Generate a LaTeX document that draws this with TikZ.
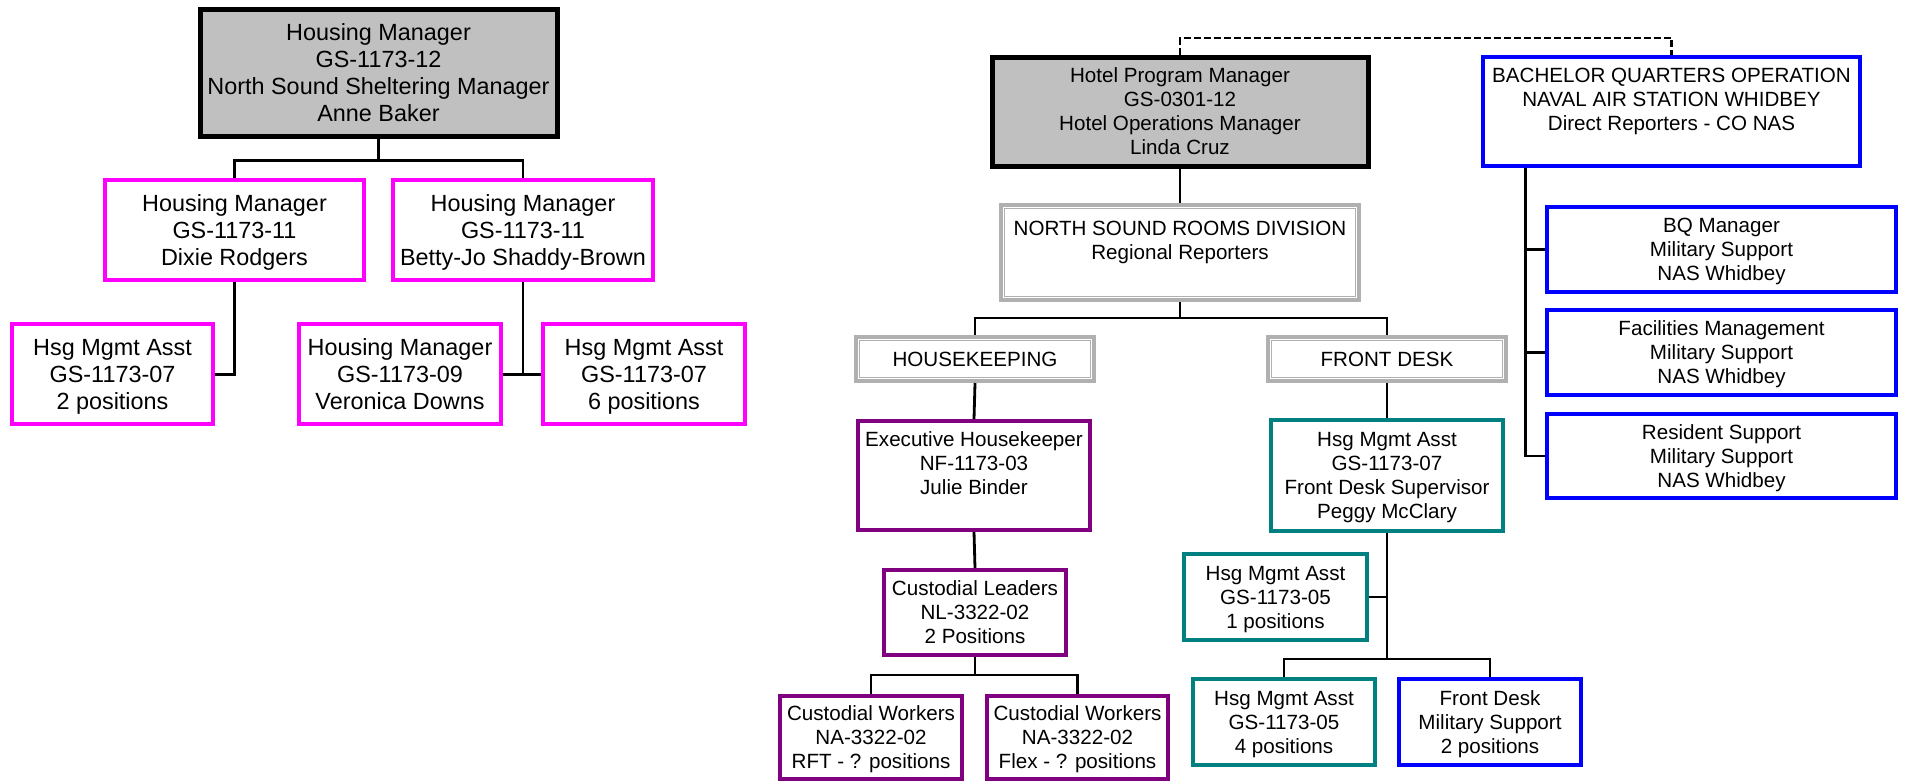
\documentclass[tikz,border=0pt]{standalone}
\usepackage{fontspec}
\setmainfont{Liberation Sans}
\definecolor{cmag}{HTML}{FF00FF}
\definecolor{cpur}{HTML}{800080}
\definecolor{cteal}{HTML}{008080}
\definecolor{cblue}{HTML}{0000FF}
\definecolor{cfill}{HTML}{C0C0C0}
\definecolor{cgrayline}{HTML}{B0B0B0}
\newcommand\firstrule{\rule{0pt}{\dimexpr0.7\baselineskip+0.25em\relax}}
\newcommand\bx[7]{\node[#2, minimum width={(#5-#3)*0.5pt}, minimum height={(#6-#4)*0.5pt}] (#1) at ({(#3+#5)/2},{(#4+#6)/2}) {\firstrule #7};}
\tikzset{
  base/.style={rectangle, inner sep=0pt, align=center, execute at end node=\strut},
  bigtxt/.style={font=\fontsize{11.7pt}{13.6pt}\selectfont},
  smalltxt/.style={font=\fontsize{10.3pt}{12pt}\selectfont},
  headbox/.style={base, draw=black, fill=cfill, line width=2.5pt},
  magbox/.style={base, bigtxt, draw=cmag, line width=1.8pt},
  purbox/.style={base, smalltxt, draw=cpur, line width=1.8pt},
  tealbox/.style={base, smalltxt, draw=cteal, line width=1.8pt},
  bluebox/.style={base, smalltxt, draw=cblue, line width=1.8pt},
  graybox/.style={base, smalltxt, draw=cgrayline, line width=2pt},
  innerline/.style={draw=cgrayline, line width=0.8pt},
  conn/.style={draw=black, line width=1.4pt},
  dconn/.style={draw=black, line width=1.3pt, dash pattern=on 3.5pt off 1.5pt},
}
\begin{document}
\begin{tikzpicture}[x=0.5pt, y=-0.5pt]
\useasboundingbox (0,0) rectangle (1906,783);
% ---------- left chart ----------
\bx{A}{headbox,bigtxt}{200}{9}{557}{136}{Housing Manager\\GS-1173-12\\North Sound Sheltering Manager\\Anne Baker}
\bx{B}{magbox}{105}{180}{364}{280}{Housing Manager\\GS-1173-11\\Dixie Rodgers}
\bx{C}{magbox}{393}{180}{653}{280}{Housing Manager\\GS-1173-11\\Betty-Jo Shaddy-Brown}
\bx{D}{magbox}{12}{324}{213}{424}{Hsg Mgmt Asst\\GS-1173-07\\2 positions}
\bx{E}{magbox}{299}{324}{501}{424}{Housing Manager\\GS-1173-09\\Veronica Downs}
\bx{F}{magbox}{543}{324}{745}{424}{Hsg Mgmt Asst\\GS-1173-07\\6 positions}
\coordinate (aj) at ([yshift=-11pt]A.south);
\draw[conn] (A.south) -- (aj);
\draw[conn] (B.north) |- (aj) -| (C.north);
\coordinate (bj) at ([yshift=-46.5pt]B.south);
\draw[conn] (B.south) -- (bj) -- (bj -| D.east);
\coordinate (cj) at ([yshift=-46.5pt]C.south);
\draw[conn] (C.south) -- (cj);
\draw[conn] (cj -| E.east) -- (cj -| F.west);
% ---------- right chart ----------
\bx{G}{headbox,smalltxt}{992}{57}{1368}{166}{Hotel Program Manager\\GS-0301-12\\Hotel Operations Manager\\Linda Cruz}
\bx{H}{bluebox}{1483}{57}{1860}{166}{BACHELOR QUARTERS OPERATION\\NAVAL AIR STATION WHIDBEY\\Direct Reporters - CO NAS\\}
\coordinate (dtop) at (1180,38);
\draw[dconn] (G.north) -- (dtop) -| (H.north);
\bx{I}{graybox}{1001}{205}{1359}{300}{NORTH SOUND ROOMS DIVISION\\Regional Reporters\\}
\draw[innerline] ([xshift=2.8pt,yshift=-2.8pt]I.north west) rectangle ([xshift=-2.8pt,yshift=2.8pt]I.south east);
\draw[conn] (G.south) -- (I.north);
\bx{J}{graybox}{856}{337}{1094}{381}{HOUSEKEEPING}
\draw[innerline] ([xshift=2.8pt,yshift=-2.8pt]J.north west) rectangle ([xshift=-2.8pt,yshift=2.8pt]J.south east);
\bx{K}{graybox}{1268}{337}{1506}{381}{FRONT DESK}
\draw[innerline] ([xshift=2.8pt,yshift=-2.8pt]K.north west) rectangle ([xshift=-2.8pt,yshift=2.8pt]K.south east);
\coordinate (ij) at (1180,318);
\draw[conn] (I.south) -- (ij);
\draw[conn] (J.north) |- (ij) -| (K.north);
% housekeeping branch
\bx{L}{purbox}{858}{421}{1090}{530}{Executive Housekeeper\\NF-1173-03\\Julie Binder\\}
\bx{M}{purbox}{884}{570}{1066}{655}{Custodial Leaders\\NL-3322-02\\2 Positions}
\bx{N}{purbox}{780}{696}{962}{779}{Custodial Workers\\NA-3322-02\\RFT - ? positions}
\bx{O}{purbox}{987}{696}{1168}{779}{Custodial Workers\\NA-3322-02\\Flex - ? positions}
\draw[conn] (J.south) -- (L.north);
\draw[conn] (L.south) -- (M.north);
\coordinate (mj) at (975,675);
\draw[conn] (M.south) -- (mj);
\draw[conn] (N.north) |- (mj) -| (O.north);
% front desk branch
\bx{P}{tealbox}{1271}{420}{1503}{531}{Hsg Mgmt Asst\\GS-1173-07\\Front Desk Supervisor\\Peggy McClary}
\bx{Q}{tealbox}{1184}{554}{1367}{640}{Hsg Mgmt Asst\\GS-1173-05\\1 positions}
\bx{R}{tealbox}{1193}{679}{1375}{765}{Hsg Mgmt Asst\\GS-1173-05\\4 positions}
\bx{S}{bluebox}{1399}{679}{1581}{765}{Front Desk\\Military Support\\2 positions}
\draw[conn] (K.south) -- (P.north);
\coordinate (pj) at (1387,659);
\draw[conn] (P.south) -- (pj);
\draw[conn] (Q.east) -- (Q.east -| pj);
\draw[conn] (R.north) |- (pj) -| (S.north);
% bachelor quarters branch
\bx{T}{bluebox}{1547}{207}{1896}{292}{BQ Manager\\Military Support\\NAS Whidbey}
\bx{U}{bluebox}{1547}{310}{1896}{395}{Facilities Management\\Military Support\\NAS Whidbey}
\bx{V}{bluebox}{1547}{414}{1896}{498}{Resident Support\\Military Support\\NAS Whidbey}
\coordinate (hx) at ([xshift=22pt]H.south west);
\draw[conn] (hx) |- (V.west);
\draw[conn] (hx |- T.west) -- (T.west);
\draw[conn] (hx |- U.west) -- (U.west);
\end{tikzpicture}
\end{document}
